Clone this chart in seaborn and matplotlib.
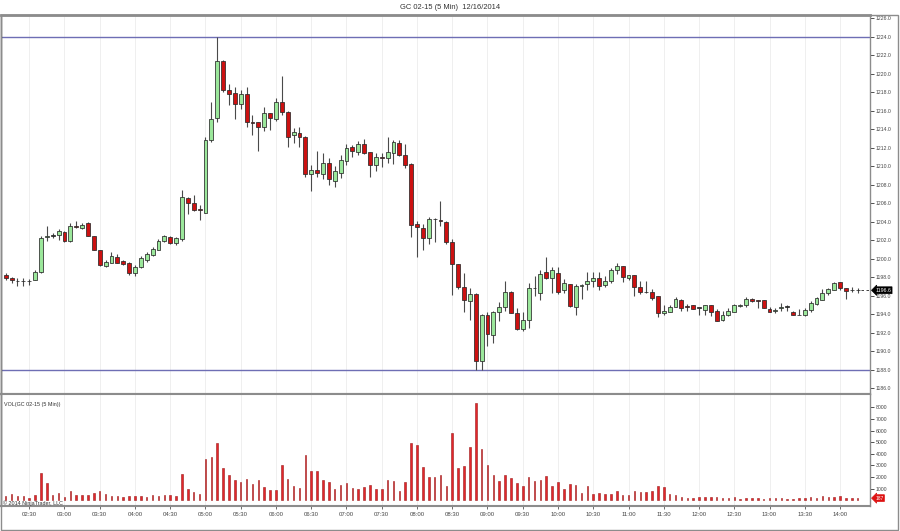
import numpy as np
import pandas as pd
import matplotlib
matplotlib.use("Agg")
import matplotlib.pyplot as plt
import matplotlib.transforms as mtransforms
from matplotlib.patches import Rectangle
from matplotlib.ticker import FixedLocator, FuncFormatter
import seaborn as sns

# ---------------- data ----------------
title = "GC 02-15 (5 Min)  12/16/2014"
start_minutes = 2 * 60 + 10          # first bar 02:10, 5-minute bars
bar_minutes = 5

opens = [1198.2, 1197.9, 1197.6, 1197.6, 1197.6, 1197.7, 1198.6, 1202.4, 1202.5, 1202.6,
         1202.9, 1201.9, 1203.6, 1203.3, 1203.9, 1202.5, 1200.9, 1199.2, 1199.5, 1200.2,
         1199.8, 1199.5, 1198.5, 1199.1, 1199.9, 1200.4, 1201.0, 1201.9, 1202.4, 1201.7,
         1202.1, 1206.6, 1206.0, 1205.4, 1205.0, 1212.8, 1215.2, 1221.4, 1218.3, 1217.9,
         1216.7, 1217.8, 1214.8, 1214.8, 1214.2, 1215.8, 1215.1, 1216.9, 1215.9, 1213.4,
         1213.6, 1213.2, 1209.2, 1209.6, 1209.2, 1210.4, 1208.4, 1209.3, 1210.6, 1212.1,
         1211.5, 1212.4, 1211.5, 1210.1, 1211.0, 1210.9, 1211.4, 1212.5, 1211.2, 1210.2,
         1203.8, 1203.3, 1202.3, 1204.3, 1204.2, 1204.0, 1201.8, 1199.4, 1196.9, 1195.4,
         1196.2, 1188.9, 1193.9, 1191.8, 1194.2, 1194.8, 1196.4, 1194.1, 1192.4, 1193.4,
         1196.8, 1196.3, 1198.6, 1197.9, 1198.5, 1196.6, 1197.3, 1194.8, 1197.1, 1197.3,
         1197.6, 1197.9, 1197.2, 1197.6, 1198.8, 1199.2, 1197.9, 1198.2, 1196.9, 1196.4,
         1196.4, 1196.0, 1194.1, 1194.2, 1194.8, 1195.5, 1194.9, 1195.0, 1194.7, 1194.5,
         1195.0, 1194.4, 1193.4, 1193.9, 1194.3, 1194.9, 1195.0, 1195.7, 1195.5, 1195.5,
         1194.6, 1194.4, 1194.7, 1194.8, 1194.3, 1193.9, 1193.9, 1194.5, 1195.1, 1195.6,
         1196.3, 1196.6, 1197.5, 1196.8, 1196.6, 1196.6]
highs = [1198.5, 1198.0, 1197.9, 1197.9, 1197.8, 1198.8, 1202.5, 1203.6, 1202.8, 1203.2,
         1203.0, 1203.9, 1204.1, 1203.9, 1204.0, 1202.5, 1201.0, 1199.9, 1200.7, 1200.5,
         1199.9, 1199.7, 1199.3, 1200.3, 1200.7, 1201.3, 1202.1, 1202.6, 1202.5, 1202.4,
         1207.4, 1206.7, 1206.9, 1205.8, 1213.2, 1217.0, 1224.0, 1221.5, 1218.9, 1218.6,
         1218.3, 1218.6, 1215.5, 1214.8, 1216.4, 1215.8, 1217.4, 1219.8, 1216.0, 1214.1,
         1214.2, 1213.3, 1210.1, 1211.7, 1211.4, 1210.9, 1210.0, 1211.2, 1212.4, 1212.3,
         1212.7, 1213.0, 1211.5, 1211.4, 1211.4, 1213.2, 1212.8, 1212.8, 1212.4, 1210.4,
         1204.1, 1203.8, 1204.5, 1204.4, 1206.3, 1204.1, 1202.1, 1199.4, 1198.5, 1196.8,
         1196.3, 1194.0, 1194.2, 1194.4, 1195.3, 1197.6, 1196.5, 1194.7, 1194.2, 1197.4,
         1198.1, 1198.8, 1200.2, 1199.1, 1199.1, 1197.8, 1197.3, 1197.3, 1197.3, 1198.6,
         1198.6, 1198.6, 1198.1, 1199.0, 1199.6, 1199.2, 1198.3, 1198.2, 1197.6, 1197.6,
         1196.7, 1196.0, 1195.0, 1195.0, 1195.9, 1195.7, 1195.1, 1195.0, 1194.7, 1195.0,
         1195.0, 1194.6, 1194.4, 1194.7, 1195.1, 1195.1, 1195.9, 1195.8, 1195.6, 1195.5,
         1194.8, 1194.7, 1195.2, 1195.0, 1194.4, 1194.6, 1194.7, 1195.4, 1195.9, 1196.7,
         1196.8, 1197.5, 1197.5, 1196.8, 1196.9, 1196.8]
lows = [1197.7, 1197.4, 1197.1, 1197.1, 1197.2, 1197.7, 1198.5, 1201.9, 1202.3, 1202.0,
        1201.8, 1201.8, 1203.3, 1203.2, 1202.5, 1200.9, 1199.2, 1199.1, 1199.5, 1199.5,
        1199.3, 1198.3, 1198.1, 1199.0, 1199.7, 1200.3, 1200.9, 1201.8, 1201.6, 1201.5,
        1201.9, 1204.8, 1205.2, 1204.2, 1205.0, 1212.6, 1214.8, 1218.0, 1216.6, 1215.1,
        1216.2, 1214.3, 1213.4, 1211.7, 1213.8, 1213.9, 1214.9, 1215.5, 1212.1, 1212.5,
        1212.1, 1208.8, 1207.3, 1208.8, 1208.6, 1208.0, 1207.8, 1208.7, 1210.1, 1211.0,
        1211.2, 1211.3, 1208.8, 1209.5, 1209.9, 1210.4, 1210.3, 1211.1, 1209.8, 1202.4,
        1200.2, 1201.0, 1201.6, 1201.8, 1203.5, 1201.6, 1196.1, 1196.7, 1194.3, 1193.4,
        1188.0, 1188.0, 1190.6, 1190.9, 1193.3, 1194.4, 1194.1, 1192.3, 1192.2, 1192.5,
        1196.0, 1195.6, 1197.8, 1196.3, 1196.2, 1196.3, 1194.8, 1193.9, 1195.7, 1196.6,
        1196.9, 1196.6, 1196.9, 1197.4, 1198.4, 1197.5, 1197.7, 1196.0, 1196.2, 1196.3,
        1195.6, 1193.7, 1193.9, 1194.2, 1194.8, 1194.4, 1194.4, 1194.6, 1193.9, 1193.9,
        1193.8, 1193.3, 1193.3, 1193.8, 1194.2, 1194.8, 1194.8, 1195.3, 1194.7, 1194.7,
        1194.2, 1194.1, 1194.4, 1194.4, 1193.9, 1193.9, 1193.8, 1194.2, 1195.0, 1195.5,
        1196.1, 1196.6, 1196.6, 1195.7, 1196.4, 1196.3]
closes = [1197.9, 1197.7, 1197.6, 1197.6, 1197.6, 1198.6, 1202.3, 1202.5, 1202.5, 1203.0,
          1201.9, 1203.5, 1203.4, 1203.7, 1202.5, 1201.0, 1199.3, 1199.7, 1200.3, 1199.6,
          1199.4, 1198.5, 1199.1, 1200.1, 1200.5, 1201.1, 1201.9, 1202.5, 1201.7, 1202.2,
          1206.7, 1206.0, 1205.3, 1205.3, 1212.8, 1215.1, 1221.4, 1218.2, 1217.8, 1216.7,
          1217.8, 1214.8, 1214.7, 1214.2, 1215.8, 1215.2, 1217.0, 1215.9, 1213.2, 1213.7,
          1213.2, 1209.2, 1209.6, 1209.3, 1210.4, 1208.6, 1209.5, 1210.7, 1212.0, 1211.7,
          1212.4, 1211.4, 1210.1, 1211.0, 1210.9, 1211.6, 1212.6, 1211.2, 1210.1, 1203.7,
          1203.4, 1202.2, 1204.3, 1204.3, 1204.1, 1201.8, 1199.4, 1196.9, 1195.5, 1196.2,
          1188.9, 1193.9, 1191.9, 1194.2, 1194.8, 1196.4, 1194.1, 1192.4, 1193.4, 1196.8,
          1196.8, 1198.4, 1197.9, 1198.8, 1196.4, 1197.4, 1194.9, 1197.1, 1197.2, 1197.6,
          1197.9, 1197.1, 1197.6, 1198.8, 1199.2, 1198.0, 1198.2, 1196.9, 1196.4, 1196.4,
          1195.8, 1194.1, 1194.4, 1194.8, 1195.7, 1194.7, 1194.8, 1194.6, 1194.7, 1195.0,
          1194.3, 1193.3, 1193.9, 1194.4, 1195.0, 1195.0, 1195.7, 1195.4, 1195.4, 1194.7,
          1194.3, 1194.5, 1194.8, 1194.8, 1193.9, 1193.9, 1194.5, 1195.2, 1195.8, 1196.3,
          1196.7, 1197.4, 1196.8, 1196.5, 1196.6, 1196.6]
volumes = [370, 500, 370, 370, 230, 480, 2340, 1450, 450, 630,
           260, 770, 450, 450, 450, 600, 830, 570, 370, 340,
           260, 370, 370, 340, 260, 450, 370, 480, 450, 340,
           2220, 970, 740, 570, 3590, 3730, 4900, 2760, 2170, 1740,
           1570, 1800, 1420, 1710, 1170, 880, 880, 3020, 1820, 1200,
           1030, 3870, 2540, 2540, 1740, 1570, 940, 1340, 1480, 1080,
           970, 1140, 1340, 970, 970, 1710, 1680, 830, 1570, 4930,
           4790, 2880, 2020, 2000, 2140, 1200, 5780, 2740, 2930, 4560,
           8380, 4390, 3020, 2140, 1650, 2140, 1910, 1480, 1230, 2000,
           1650, 1770, 2080, 1250, 1600, 970, 1400, 1310, 630, 1230,
           540, 630, 570, 570, 770, 480, 480, 800, 710, 710,
           800, 1200, 1170, 540, 430, 280, 200, 200, 260, 260,
           310, 310, 200, 230, 260, 140, 170, 170, 170, 110,
           170, 200, 170, 90, 90, 170, 170, 260, 200, 340,
           260, 310, 340, 200, 170, 187]
level_lines = [1224.0, 1188.0]
price_ticks = list(range(1186, 1227, 2))
price_grid = list(range(1186, 1227, 6))
vol_ticks = list(range(1000, 8001, 1000))
vol_grid = [3000, 6000]
time_tick_labels = ["02:30", "03:00", "03:30", "04:00", "04:30", "05:00", "05:30", "06:00",
                    "06:30", "07:00", "07:30", "08:00", "08:30", "09:00", "09:30", "10:00",
                    "10:30", "11:00", "11:30", "12:00", "12:30", "13:00", "13:30", "14:00"]

# ---------------- derived ----------------
n = len(closes)
idx = np.arange(n)
O = np.array(opens); C = np.array(closes); Hh = np.array(highs); L = np.array(lows)
def label_to_index(s):
    h, m = s.split(":")
    return (int(h) * 60 + int(m) - start_minutes) / bar_minutes
tick_idx = [label_to_index(s) for s in time_tick_labels]

GREEN = "#9be79b"
RED = "#cc1111"
body_col = [GREEN if c > o else (RED if c < o else "#222222") for o, c in zip(O, C)]
body_bot = np.minimum(O, C)
body_h = np.maximum(np.abs(C - O), 0.05)

# ---------------- figure ----------------
sns.set_style("white")
plt.rcParams["font.family"] = ["Liberation Sans", "DejaVu Sans"]
W, H = 900, 531
fig = plt.figure(figsize=(W / 100, H / 100), dpi=100)
fig.patch.set_facecolor("white")

def frect(x0, y0, x1, y1):
    return [x0 / W, 1 - y1 / H, (x1 - x0) / W, (y1 - y0) / H]

ax = fig.add_axes(frect(1, 14.5, 870, 393.5))
axv = fig.add_axes(frect(1, 393.5, 870, 506))

xlim = (-0.8, 147.1)

# price pane
ax.vlines(idx, L, Hh, color="#4a4a4a", lw=0.8, zorder=2)
ax.bar(idx, body_h, bottom=body_bot, width=0.66, color=body_col,
       edgecolor="#2a2a2a", linewidth=0.55, zorder=3)
for lv in level_lines:
    ax.axhline(lv, color="#6e6eb4", lw=1.0, zorder=1.5)
ax.hlines(C[-1], idx[-1] + 0.5, xlim[1], colors="#222222", linestyles=(0, (3, 3)), lw=0.6, zorder=2)

ax.set_xlim(*xlim)
ax.set_ylim(1185.44, 1226.41)
ax.yaxis.tick_right()
ax.set_yticks(price_ticks)
ax.yaxis.set_major_formatter(FuncFormatter(lambda v, p: f"{v:.1f}"))
ax.yaxis.set_minor_locator(FixedLocator(price_grid))
ax.set_xticks(tick_idx)
ax.tick_params(axis="x", which="both", length=0, labelbottom=False)
ax.tick_params(axis="y", which="major", right=True, length=3, width=0.6, color="#333333",
               labelsize=3.7, labelcolor="#444444", pad=1)
ax.tick_params(axis="y", which="minor", length=0)
ax.grid(False)
ax.grid(axis="x", which="major", color="#ececec", lw=0.6, zorder=0)
ax.grid(axis="y", which="minor", color="#ececec", lw=0.6, zorder=0)
ax.set_axisbelow(True)
for side, sp in ax.spines.items():
    sp.set_visible(True)
ax.spines["top"].set_color("#8c8c8c"); ax.spines["top"].set_linewidth(2)
ax.spines["bottom"].set_color("#8c8c8c"); ax.spines["bottom"].set_linewidth(1.5)
ax.spines["left"].set_color("#333333"); ax.spines["left"].set_linewidth(1)
ax.spines["right"].set_color("#8c8c8c"); ax.spines["right"].set_linewidth(1)

blend = mtransforms.blended_transform_factory(ax.transAxes, ax.transData)
ax.text(1.006, C[-1], f"{C[-1]:.1f}", transform=blend, va="center", ha="left",
        fontsize=3.8, color="white", zorder=10, clip_on=False,
        bbox=dict(boxstyle="larrow,pad=0.18", fc="black", ec="black", lw=0.5))

# volume pane
vdf = pd.DataFrame({"bar": idx, "volume": volumes})
sns.barplot(data=vdf, x="bar", y="volume", native_scale=True, width=0.26,
            color="#e3262b", edgecolor="#9a1a1a", linewidth=0.4, errorbar=None,
            saturation=1, ax=axv, zorder=3)
axv.set_xlim(*xlim)
axv.set_ylim(-490, 9183)
axv.set_xlabel(""); axv.set_ylabel("")
axv.yaxis.tick_right()
axv.set_yticks(vol_ticks)
axv.yaxis.set_minor_locator(FixedLocator(vol_grid))
axv.set_xticks(tick_idx)
axv.set_xticklabels(time_tick_labels)
axv.tick_params(axis="x", which="major", bottom=True, length=2.5, width=0.6, color="#555555",
                labelsize=4.3, labelcolor="#444444", pad=1.5)
axv.tick_params(axis="y", which="major", right=True, length=3, width=0.6, color="#333333",
                labelsize=3.7, labelcolor="#444444", pad=1)
axv.tick_params(axis="y", which="minor", length=0)
axv.grid(False)
axv.grid(axis="x", which="major", color="#ececec", lw=0.6, zorder=0)
axv.grid(axis="y", which="minor", color="#ececec", lw=0.6, zorder=0)
axv.set_axisbelow(True)
for side, sp in axv.spines.items():
    sp.set_visible(True)
axv.spines["top"].set_color("#8c8c8c"); axv.spines["top"].set_linewidth(1.5)
axv.spines["bottom"].set_color("#8c8c8c"); axv.spines["bottom"].set_linewidth(1.5)
axv.spines["left"].set_color("#333333"); axv.spines["left"].set_linewidth(1)
axv.spines["right"].set_color("#8c8c8c"); axv.spines["right"].set_linewidth(1)

axv.text(0.003, 0.90, "VOL(GC 02-15 (5 Min))", transform=axv.transAxes, fontsize=3.9,
         color="#333333", ha="left", va="center", zorder=10)
axv.text(0.002, 0.0, "\u00a9 2014 NinjaTrader, LLC", transform=axv.transAxes, fontsize=3.9,
         color="#333333", ha="left", va="bottom", zorder=10)
vblend = mtransforms.blended_transform_factory(axv.transAxes, axv.transData)
axv.text(1.006, volumes[-1], f"{volumes[-1]}", transform=vblend, va="center", ha="left",
         fontsize=3.6, color="white", zorder=10, clip_on=False,
         bbox=dict(boxstyle="larrow,pad=0.18", fc="#dd1111", ec="#dd1111", lw=0.5))

# title and outer frame
fig.text(0.5, 1 - 7.5 / H, title, ha="center", va="center", fontsize=5.4, color="#333333")
fig.add_artist(Rectangle((1 / W, 1 - 530 / H), 897 / W, (530 - 14.5) / H, fill=False,
                         ec="#8c8c8c", lw=1.0, transform=fig.transFigure))

fig.savefig("out.png", dpi=100, facecolor="white")
